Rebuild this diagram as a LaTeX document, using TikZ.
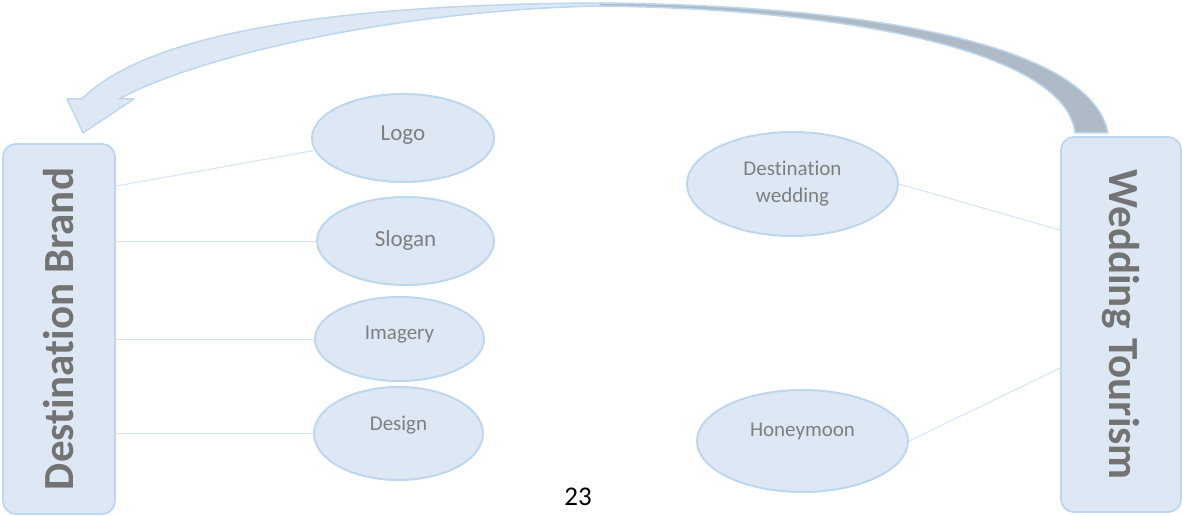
\documentclass[tikz,border=0pt]{standalone}
\usepackage{fontspec}
\setmainfont[Ligatures=NoCommon]{Carlito}
\usetikzlibrary{shapes.geometric,calc}
\definecolor{boxfill}{HTML}{DEE8F5}
\definecolor{boxline}{HTML}{BDD7EE}
\definecolor{linkline}{HTML}{D5E3F3}
\definecolor{txtgray}{HTML}{7F7F7F}
\definecolor{titlegray}{HTML}{737373}
\definecolor{backface}{HTML}{AFBAC7}
\tikzset{
  titlebox/.style={draw=boxline, fill=boxfill, line width=1.8pt, rounded corners=13pt, inner sep=0pt},
  titletext/.style={text=titlegray, font=\fontsize{43}{50}\selectfont\bfseries},
  oval/.style={ellipse, draw=boxline, fill=boxfill, line width=2pt, inner sep=0pt},
  otext/.style={text=txtgray, align=center},
  link/.style={draw=linkline, line width=1pt},
  ribbon/.style={draw=boxline, line width=1.5pt, line join=round},
}
\begin{document}
\begin{tikzpicture}[x=1pt,y=-1pt]
\useasboundingbox (0,0) rectangle (1183,516);
% curved block arrow
\path[ribbon, fill=backface] (600,3) .. controls (850,5) and (1090,40) .. (1108,133)
   -- (1075,133) .. controls (1066,52) and (850,9) .. (600,6) -- cycle;
\path[ribbon, fill=boxfill] (82,99) .. controls (150,30) and (350,4) .. (600,3)
   -- (600,6) .. controls (400,10) and (200,55) .. (119,99)
   -- (134,99) -- (83,133) -- (67,99) -- cycle;
% title boxes
\node[titlebox, minimum width=112, minimum height=370] (brand) at (59,329) {};
\node[titletext, rotate=90] (brandtxt) at (brand.center) {Destination Brand};
\node[titlebox, minimum width=120, minimum height=375] (wed) at (1121,324.5) {};
\node[titletext, rotate=-90] (wedtxt) at (wed.center) {Wedding Tourism};
% ellipses
\node[oval, minimum width=182, minimum height=88,
  label={[otext, font=\fontsize{23}{27}\selectfont, yshift=3pt]center:Logo}] (logo) at (403,138) {};
\node[oval, minimum width=177, minimum height=88,
  label={[otext, font=\fontsize{23}{27}\selectfont, yshift=1pt]center:Slogan}] (slogan) at (405.5,241) {};
\node[oval, minimum width=169, minimum height=84,
  label={[otext, font=\fontsize{21}{26}\selectfont, yshift=4pt]center:Imagery}] (imagery) at (399.5,339) {};
\node[oval, minimum width=169, minimum height=93,
  label={[otext, font=\fontsize{21}{26}\selectfont, yshift=8pt]center:Design}] (design) at (398.5,433.5) {};
\node[oval, minimum width=211, minimum height=104,
  label={[otext, font=\fontsize{21}{27}\selectfont, yshift=0pt]center:Destination\\wedding}] (dwed) at (792.5,184) {};
\node[oval, minimum width=211, minimum height=102,
  label={[otext, font=\fontsize{21}{26}\selectfont, yshift=10pt]center:Honeymoon}] (honey) at (802.5,441) {};
% page number
\node[font=\fontsize{27}{32}\selectfont] (page) at (578,497) {23};
% connector end points on boxes
\coordinate (bl) at ($(brand.north east)+(0,43)$);
\coordinate (wd) at ($(wed.north west)+(0,94)$);
\coordinate (wh) at ($(wed.north west)+(0,232)$);
% connectors
\draw[link] (bl) -- (logo.188);
\draw[link] (brand.east |- slogan.west) -- (slogan.west);
\draw[link] (brand.east |- imagery.west) -- (imagery.west);
\draw[link] (brand.east |- design.west) -- (design.west);
\draw[link] (dwed.east) -- (wd);
\draw[link] (honey.east) -- (wh);
\end{tikzpicture}
\end{document}
